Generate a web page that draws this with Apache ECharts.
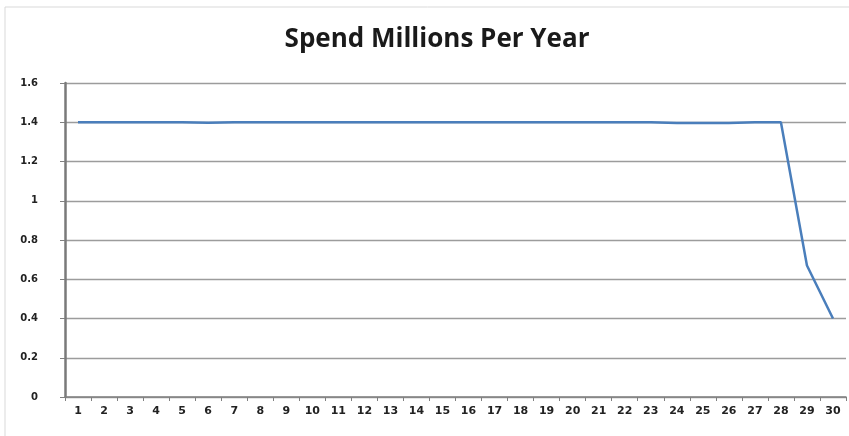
<!DOCTYPE html>
<html><head><meta charset="utf-8">
<script src="https://cdn.jsdelivr.net/npm/echarts@6/dist/echarts.min.js"></script>
<style>html,body{margin:0;padding:0;background:#fff}#c{width:849px;height:436px}</style>
</head><body><div id="c"></div>
<script>
const years = ['1','2','3','4','5','6','7','8','9','10','11','12','13','14','15','16','17','18','19','20','21','22','23','24','25','26','27','28','29','30'];
const spend = [1.4,1.4,1.4,1.4,1.4,1.398,1.4,1.4,1.4,1.4,1.4,1.4,1.4,1.4,1.4,1.4,1.4,1.4,1.4,1.4,1.4,1.4,1.4,1.396,1.396,1.396,1.4,1.4,0.67,0.4];
const yTicks = [0,0.2,0.4,0.6,0.8,1,1.2,1.4,1.6];

const chart = echarts.init(document.getElementById('c'));
chart.setOption({
  animation:false,
  graphic:[{type:'rect',shape:{x:5,y:7,width:850,height:440},style:{fill:'none',stroke:'#d9d9d9',lineWidth:1}}],
  title:{text:'Spend Millions Per Year',left:432,top:22,textAlign:'center',
    textStyle:{fontFamily:'Open Sans, sans-serif',fontSize:26,fontWeight:'bold',color:'#1a1a1a'}},
  grid:{left:65,right:3,top:83,bottom:39},
  xAxis:{type:'category',data:years,boundaryGap:true,
    axisLine:{lineStyle:{color:'#808080',width:1.5}},
    axisTick:{show:true,length:4,lineStyle:{color:'#808080'}},
    axisLabel:{color:'#222',fontSize:11,fontWeight:'bold',fontFamily:'DejaVu Sans, sans-serif',margin:9,interval:0}},
  yAxis:{type:'value',min:yTicks[0],max:yTicks[yTicks.length-1],interval:0.2,
    axisLine:{show:true,lineStyle:{color:'#7a7a7a',width:2.5}},
    axisTick:{show:true,length:5,lineStyle:{color:'#808080'}},
    splitLine:{lineStyle:{color:'#9c9c9c',width:1.3}},
    axisLabel:{color:'#222',fontSize:10,fontWeight:'bold',fontFamily:'DejaVu Sans, sans-serif',margin:27,
      formatter:v=>String(Math.round(v*10)/10)}},
  series:[{type:'line',data:spend,symbol:'none',lineStyle:{color:'#4a7ebb',width:2.5}}]
});
</script></body></html>
